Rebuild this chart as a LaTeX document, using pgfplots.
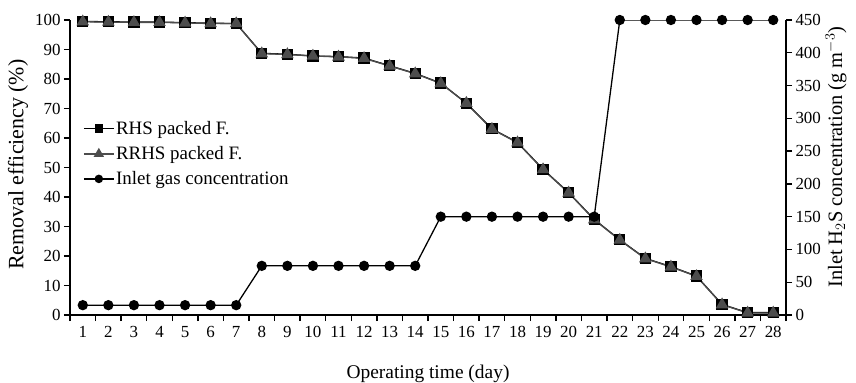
\documentclass[border=0pt]{standalone}
\usepackage{fontspec}
\setmainfont{Liberation Serif}
\usepackage{pgfplots}
\pgfplotsset{compat=1.18}
\definecolor{trigray}{HTML}{4D4D4D}
\pgfplotstableread{
day rhs rrhs gas
1 99.5 99.4 15
2 99.4 99.3 15
3 99.3 99.2 15
4 99.3 99.2 15
5 99.1 99.0 15
6 98.9 98.8 15
7 98.8 98.8 15
8 88.7 88.6 75
9 88.4 88.3 75
10 87.8 87.8 75
11 87.6 87.5 75
12 87.1 87.0 75
13 84.5 84.4 75
14 81.9 81.8 75
15 78.6 78.5 150
16 71.8 71.8 150
17 63.1 63.0 150
18 58.5 58.4 150
19 49.4 49.3 150
20 41.5 41.4 150
21 32.4 32.3 150
22 25.5 25.4 450
23 19.2 19.1 450
24 16.4 16.3 450
25 13.2 13.1 450
26 3.6 3.5 450
27 0.8 0.7 450
28 0.8 0.7 450
}\data
\begin{document}
\begin{tikzpicture}
\pgfplotsset{
  every axis/.append style={
    scale only axis, width=716bp, height=295bp,
    at={(0,0)}, anchor=south west,
    xmin=0.5, xmax=28.5,
    font=\fontsize{17}{19}\selectfont,
    /pgf/number format/assume math mode=true,
    tick align=outside, tick style={black, line width=1.3pt},
    axis line style={line width=1.3pt},
    major tick length=6bp, minor tick length=6bp,
  }
}
\begin{axis}[
  axis x line*=bottom, axis y line*=left,
  ymin=0, ymax=100, ytick={0,10,...,100},
  xtick={1,...,28}, major x tick style={draw=none},
  minor xtick={0.5,1.5,...,28.5},
  xticklabel style={yshift=-2pt},
  xlabel={Operating time (day)},
  xlabel style={at={(axis description cs:0.5,-0.2)}, anchor=center, font=\fontsize{19.5}{22}\selectfont},
  ylabel={Removal efficiency (\%)},
  ylabel style={at={(axis description cs:-0.0726,0.51)}, anchor=center, font=\fontsize{22}{24}\selectfont},
]
\addplot[black, line width=1.3pt, mark=square*, mark size=5pt, mark options={fill=black}] table[x=day, y=rhs] {\data};
\addplot[trigray, line width=1.3pt, mark=triangle*, mark size=6pt, mark options={fill=trigray, draw=trigray}] table[x=day, y=rrhs] {\data};
\end{axis}
\begin{axis}[
  axis y line*=right, axis x line=none,
  ymin=0, ymax=450, ytick={0,50,...,450},
  ylabel={Inlet H$_2$S concentration (g m$^{-3}$)},
  ylabel style={at={(axis description cs:1.0698,0.535)}, anchor=center, font=\fontsize{20.5}{23}\selectfont},
  legend style={at={(rel axis cs:0.018,0.662)}, anchor=north west, draw=none, fill=none,
    font=\fontsize{19}{21}\selectfont, row sep=7.5pt, inner sep=0pt,
    nodes={inner sep=1.5pt},
    legend cell align=left},
  legend image code/.code={\draw[mark repeat=2, mark phase=2] plot coordinates {(0bp,0bp) (15bp,0bp) (30bp,0bp)};},
]
\addlegendimage{black, line width=1.5pt, mark=square*, mark size=3.5pt, mark options={fill=black}}
\addlegendentry{RHS packed F.}
\addlegendimage{trigray, line width=1.5pt, mark=triangle*, mark size=4.5pt, mark options={fill=trigray}}
\addlegendentry{RRHS packed F.}
\addlegendimage{black, line width=1.5pt, mark=*, mark size=3.5pt}
\addlegendentry{Inlet gas concentration}
\addplot[black, line width=1.3pt, mark=*, mark size=4.5pt, forget plot] table[x=day, y=gas] {\data};
\end{axis}
\pgfresetboundingbox
\path (-70bp,-68bp) rectangle (786bp,315bp);
\end{tikzpicture}
\end{document}
